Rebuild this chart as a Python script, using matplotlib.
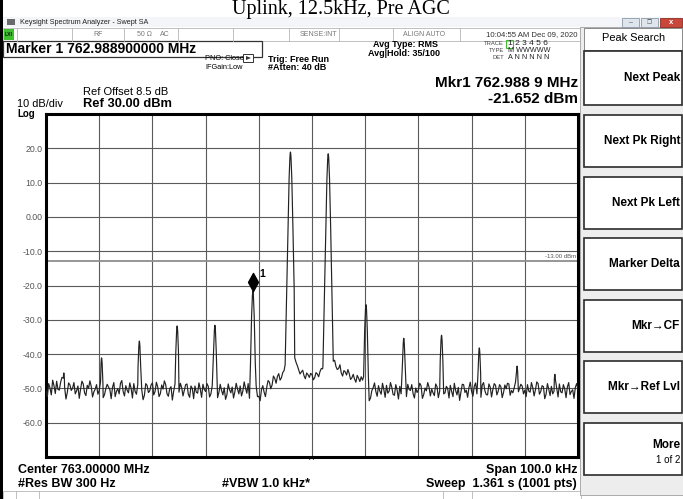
import numpy as np
import matplotlib
matplotlib.use("Agg")
import matplotlib.pyplot as plt
from matplotlib.patches import Rectangle, Polygon

plt.rcParams['font.family'] = ['Liberation Sans', 'DejaVu Sans']

W, H = 683, 499

CENTER_MHZ = 763.0
SPAN_KHZ = 100.0
REF_DBM = 30.0
BOTTOM_DBM = -70.0
DISPLAY_LINE_DBM = -13.0

# noise floor at -50.0, -49.5, ... +50.0 kHz around center
FLOOR_DBM = [
    -50.8, -48.6, -51.9, -49.2, -47.9, -50.5, -46.8, -49.7, -51.2, -49.0,
    -49.9, -51.6, -49.3, -50.2, -48.7, -52.1, -50.0, -49.4, -51.0, -48.9,
    -50.6, -49.5, -51.8, -48.8, -50.3, -49.7, -52.4, -50.1, -48.5, -50.9,
    -49.2, -51.3, -50.0, -48.6, -51.7, -49.8, -50.4, -52.0, -49.1, -50.7,
    -48.4, -50.9, -49.6, -51.5, -50.2, -48.9, -52.3, -49.5, -50.8, -49.0,
    -51.1, -49.7, -50.5, -48.7, -52.6, -50.0, -49.3, -51.4, -50.2, -48.8,
    -50.9, -49.4, -51.6, -50.3, -49.0, -51.2, -50.6, -49.8, -51.9, -50.4,
    -49.6, -51.0, -50.2, -49.3, -50.8, -49.9, -48.6, -50.5, -50.0, -49.2,
    -52.3, -50.4, -51.1, -49.6, -48.2, -49.0, -47.1, -46.5, -47.6, -45.4,
    -44.2, -43.5, -41.0, -41.0, -42.4, -44.6, -45.2, -46.3, -45.5, -46.8,
    -46.0, -46.9, -45.8, -45.1, -44.3, -43.0, -41.0, -41.0, -42.1, -43.6,
    -44.2, -45.5, -44.8, -46.1, -45.7, -46.9, -47.3, -46.2, -48.0, -47.6,
    -49.5, -51.4, -52.8, -49.8, -50.9, -49.2, -51.7, -50.3, -49.1, -50.8,
    -49.7, -52.0, -50.5, -49.4, -51.2, -50.1, -48.8, -50.6, -51.5, -49.9,
    -50.4, -49.2, -51.8, -50.7, -49.6, -50.2, -52.1, -49.5, -50.8, -49.8,
    -51.3, -50.0, -49.1, -52.4, -50.6, -49.7, -51.0, -48.9, -50.5, -49.8,
    -50.9, -49.4, -51.6, -50.2, -49.0, -50.7, -51.9, -49.6, -50.3, -49.1,
    -50.8, -49.5, -51.2, -50.1, -48.7, -50.6, -49.9, -51.4, -50.0, -49.3,
    -50.5, -48.9, -51.1, -49.8, -50.4, -48.6, -50.9, -49.5, -51.7, -50.2,
    -49.4, -50.8, -49.9, -48.7, -51.3, -50.1, -49.6, -51.8, -50.4, -49.7,
    -50.2,
]
# noise floor in between, at -49.75, -49.25, ... +49.75 kHz
FLOOR_MID_DBM = [
    -52.4, -49.9, -47.6, -51.5, -50.3, -48.2, -51.0, -53.1, -48.4, -50.6,
    -48.3, -50.7, -52.9, -47.9, -51.3, -49.1, -47.8, -52.5, -50.2, -51.7,
    -48.1, -52.7, -50.0, -49.6, -53.0, -48.3, -50.8, -51.6, -47.7, -52.2,
    -50.5, -48.4, -52.8, -50.9, -48.9, -51.8, -53.3, -48.6, -51.2, -49.0,
    -51.9, -48.2, -52.4, -49.0, -47.8, -51.6, -50.1, -53.4, -48.7, -51.5,
    -48.5, -52.2, -48.9, -51.7, -49.3, -53.0, -51.1, -48.4, -52.6, -50.3,
    -48.6, -52.5, -49.2, -47.9, -52.7, -48.8, -51.9, -53.2, -48.7, -51.3,
    -52.8, -48.5, -51.6, -52.2, -48.1, -51.4, -52.9, -48.9, -51.7, -52.4,
    -53.6, -49.2, -52.4, -47.7, -50.1, -46.4, -48.5, -45.7, -46.9, -44.8,
    -43.9, -41.0, -41.0, -41.0, -43.4, -45.8, -44.7, -47.2, -46.0, -45.6,
    -47.5, -45.4, -46.6, -44.2, -42.9, -41.0, -41.0, -41.0, -41.8, -44.5,
    -43.1, -46.4, -45.2, -44.5, -47.4, -45.9, -48.2, -47.0, -46.6, -49.1,
    -48.2, -53.6, -50.6, -48.4, -52.3, -50.8, -48.5, -52.6, -51.4, -48.3,
    -51.8, -48.9, -53.1, -51.6, -48.6, -52.4, -50.3, -48.9, -52.8, -51.2,
    -48.5, -52.9, -49.9, -48.3, -52.2, -51.3, -48.7, -52.7, -48.4, -51.6,
    -49.4, -52.8, -50.9, -48.5, -51.9, -53.5, -48.8, -51.2, -52.6, -48.2,
    -52.3, -48.4, -50.5, -52.6, -48.3, -51.8, -48.7, -52.5, -48.6, -51.9,
    -48.9, -52.7, -49.0, -48.5, -52.0, -51.3, -48.2, -52.9, -48.8, -51.6,
    -52.4, -50.8, -48.3, -52.2, -48.1, -51.7, -49.2, -53.0, -48.6, -52.1,
    -51.6, -48.4, -52.5, -51.0, -48.9, -52.7, -48.3, -50.9, -52.9, -48.6,
]

# two carriers and their intermod products (kHz from center, dBm)
PEAK_KHZ = [-46.65, -39.55, -32.45, -25.35, -18.25, -11.11, -4.05, 3.05,
            10.15, 17.25, 24.35, 31.45, 38.55, 45.65]
PEAK_DBM = [-45.5, -41.1, -36.2, -31.8, -31.6, -21.65, 18.9, 18.4,
            -25.6, -35.4, -34.5, -38.2, -43.5, -45.9]

# 300 Hz RBW filter skirt
SHAPE_KHZ = [-1.0, -0.7, -0.45, -0.25, -0.1, -0.04, 0.0, 0.04, 0.1, 0.25, 0.45, 0.7, 1.0]
SHAPE_DB = [-62, -40, -21, -7.5, -1.5, -0.3, 0, -0.3, -1.5, -7.5, -21, -40, -62]

MARKER_KHZ = -11.11
MARKER_DBM = -21.652

Y_LABELS = ["20.0", "10.0", "0.00", "-10.0", "-20.0", "-30.0", "-40.0", "-50.0", "-60.0"]
SOFTKEYS = ["Next Peak", "Next Pk Right", "Next Pk Left", "Marker Delta",
            "Mkr\u2192CF", "Mkr\u2192Ref Lvl", "More"]

# build trace
n = len(FLOOR_DBM) + len(FLOOR_MID_DBM)
floor_f = np.linspace(-SPAN_KHZ / 2, SPAN_KHZ / 2, n)
floor_y = np.empty(n)
floor_y[0::2] = FLOOR_DBM
floor_y[1::2] = FLOOR_MID_DBM
keep = np.ones(n, bool)
pk_f, pk_y = [], []
for f0, top in zip(PEAK_KHZ, PEAK_DBM):
    xs = f0 + np.array(SHAPE_KHZ)
    ys = top + np.array(SHAPE_DB, float)
    ok = ys > np.interp(xs, floor_f, floor_y)
    xs, ys = xs[ok], ys[ok]
    keep &= ~((floor_f >= xs.min() - 0.03) & (floor_f <= xs.max() + 0.03))
    pk_f += list(xs)
    pk_y += list(ys)
tf = np.concatenate([floor_f[keep], pk_f])
ty = np.concatenate([floor_y[keep], pk_y])
order = np.argsort(tf)
tf, ty = tf[order], ty[order]

fig = plt.figure(figsize=(W / 100, H / 100), dpi=100)
fig.patch.set_facecolor('white')

bg = fig.add_axes([0, 0, 1, 1])
bg.set_xlim(0, W)
bg.set_ylim(H, 0)
bg.axis('off')


def txt(x, y, s, size, ha='left', weight='normal', color='black', **kw):
    bg.text(x, y, s, fontsize=size, ha=ha, va='center', fontweight=weight, color=color, **kw)


# document title
bg.text(341, 14, "Uplink, 12.5kHz, Pre AGC", fontsize=14.5, ha='center', va='baseline',
        family='Liberation Serif', zorder=5)
bg.add_patch(Rectangle((0, 0), 3, H, fc='black', ec='none', zorder=6))

# window title bar
bg.add_patch(Rectangle((3, 17), W - 3, 10, fc='#f3f5f8', ec='none', zorder=4))
bg.add_patch(Rectangle((7, 19), 8, 6, fc='#6a6a6a', ec='none', zorder=7))
bg.text(20, 22.5, "Keysight Spectrum Analyzer - Swept SA", fontsize=5.2, va='center',
        color='#222', zorder=7)
for bx, bw, fc, ec in [(622, 17, '#dfe5ec', '#8d99a8'), (641, 17, '#dfe5ec', '#8d99a8'),
                       (660, 22, '#c8463a', '#8f2a22')]:
    bg.add_patch(Rectangle((bx, 18), bw, 9, fc=fc, ec=ec, lw=0.6, zorder=7))
bg.text(630.5, 23, "\u2013", fontsize=5, ha='center', va='center', color='#555', zorder=8)
bg.text(649.5, 22.5, "\u2750", fontsize=4, ha='center', va='center', color='#555', zorder=8)
bg.text(671, 22.5, "x", fontsize=5.5, ha='center', va='center', color='white',
        fontweight='bold', zorder=8)

# status row
bg.add_patch(Rectangle((3, 28), 578, 13, fc='white', ec='#b5b5b5', lw=0.6))
for xd in [17, 72, 124, 178, 233, 289, 339, 393, 460]:
    bg.plot([xd, xd], [28, 41], color='#b5b5b5', lw=0.6)
bg.add_patch(Rectangle((4, 29), 10, 11, fc='#3fbf2f', ec='none'))
txt(9, 34.5, "LXI", 3.6, ha='center', weight='bold', color='#111')
txt(98, 34.5, "RF", 5, ha='center', color='#777')
txt(137, 34.5, "50 \u03a9", 5, color='#777')
txt(160, 34.5, "AC", 5, color='#777')
txt(337, 34.5, "SENSE:INT", 5, ha='right', color='#777')
txt(424, 34.5, "ALIGN AUTO", 5, ha='center', color='#777')
txt(577, 34.5, "10:04:55 AM Dec 09, 2020", 5.6, ha='right', color='#333')

# marker readout and settings
bg.add_patch(Rectangle((3, 41), 259, 16, fc='white', ec='#333', lw=0.9))
txt(6, 49, "Marker 1 762.988900000 MHz", 10, weight='bold')
txt(205, 58.5, "PNO: Close", 5.3)
bg.add_patch(Rectangle((243, 54), 10, 8, fc='white', ec='#333', lw=0.7))
bg.add_patch(Polygon([(246, 56), (251, 58), (246, 60)], closed=True, fc='#333', ec='none'))
txt(205, 67, "IFGain:Low", 5.3)
txt(268, 59, "Trig: Free Run", 6.5, weight='bold')
txt(268, 67, "#Atten: 40 dB", 6.5, weight='bold')
txt(373, 44, "Avg Type: RMS", 6.5, weight='bold')
txt(368, 53, "Avg|Hold: 35/100", 6.5, weight='bold')
txt(504, 43.5, "TRACE", 4.2, ha='right', color='#444')
txt(504, 50.5, "TYPE", 4.2, ha='right', color='#444')
txt(504, 57.5, "DET", 4.2, ha='right', color='#444')
bg.add_patch(Rectangle((506, 39.5), 7, 8, fc='none', ec='#3fbf2f', lw=0.8))
txt(507.5, 43.5, "1 2 3 4 5 6", 6, color='#222')
txt(507.5, 50.5, "M WWWWW", 5.2, color='#222')
txt(507.5, 57.5, "A N N N N N", 5.2, color='#222')

txt(578, 83, "Mkr1 762.988 9 MHz", 11, ha='right', weight='bold')
txt(578, 99, "-21.652 dBm", 11, ha='right', weight='bold')
txt(83, 92, "Ref Offset 8.5 dB", 8)
txt(17, 104, "10 dB/div", 7.9)
txt(83, 104, "Ref 30.00 dBm", 9.3, weight='bold')
txt(17, 113.5, "Log", 7, weight='bold')

# bottom annotations
txt(18, 470, "Center 763.00000 MHz", 9, weight='bold')
txt(577, 470, "Span 100.0 kHz", 9, ha='right', weight='bold')
txt(18, 484, "#Res BW 300 Hz", 9, weight='bold')
txt(222, 484, "#VBW 1.0 kHz*", 9, weight='bold')
txt(577, 484, "Sweep  1.361 s (1001 pts)", 9, ha='right', weight='bold')
txt(312, 461, "^", 8, ha='center', color='#222')
bg.add_patch(Rectangle((3, 491), 578, 9, fc='white', ec='#b5b5b5', lw=0.6))
for xd in [16, 39, 443, 472]:
    bg.plot([xd, xd], [491, 499], color='#b5b5b5', lw=0.6)

# softkey panel
bg.add_patch(Rectangle((580, 27), W - 580, 468, fc='#ededed', ec='#a0a0a0', lw=0.6))
bg.add_patch(Rectangle((584, 28), 98, 22, fc='white', ec='#8a8a8a', lw=0.7))
txt(634, 38, "Peak Search", 7.9, ha='center')
tops = [51] + [115 + 61.6 * k for k in range(6)]
heights = [54] + [52] * 6
for label, top, hgt in zip(SOFTKEYS, tops, heights):
    bg.add_patch(Rectangle((584, top), 98, hgt, fc='white', ec='#2b2b2b', lw=1.2))
    cy = top + hgt / 2
    if label == "More":
        txt(680, cy - 4, label, 8.5, ha='right', weight='bold')
        txt(680, cy + 11, "1 of 2", 7, ha='right')
    else:
        txt(680, cy, label, 8.5, ha='right', weight='bold')

# spectrum graticule
x0, x1, ytop, ybot = 46, 578, 114, 457
ax = fig.add_axes([x0 / W, 1 - ybot / H, (x1 - x0) / W, (ybot - ytop) / H])
ax.set_facecolor('white')
fmin = CENTER_MHZ - SPAN_KHZ / 2000
fmax = CENTER_MHZ + SPAN_KHZ / 2000
ax.set_xlim(fmin, fmax)
ax.set_ylim(BOTTOM_DBM, REF_DBM)
ax.set_xticks(np.linspace(fmin, fmax, 11))
ax.set_xticklabels([])
ax.set_yticks(np.arange(BOTTOM_DBM, REF_DBM + 1, 10))
ax.set_yticklabels([""] + Y_LABELS[::-1] + [""])
ax.tick_params(length=0, labelsize=6.3, labelcolor='#555', pad=2.5)
ax.grid(True, color='#5a5a5a', lw=0.8)
ax.set_axisbelow(True)
for sp in ax.spines.values():
    sp.set_linewidth(2.2)
    sp.set_color('black')

ax.axhline(DISPLAY_LINE_DBM, color='#8e8e8e', lw=1.3, zorder=1)
ax.text(fmax - 0.0003, DISPLAY_LINE_DBM + 0.6, "-13.00 dBm", fontsize=4.3, color='#555',
        ha='right', va='bottom')

ax.plot(CENTER_MHZ + tf / 1000, ty, color='#222222', lw=0.85, zorder=3)

mk_f = CENTER_MHZ + MARKER_KHZ / 1000
diamond = [(0, 0), (0.55, 1), (0, 2), (-0.55, 1), (0, 0)]
ax.plot(mk_f, MARKER_DBM, marker=diamond, ms=26, color='black', zorder=4)
ax.annotate("1", (mk_f, MARKER_DBM), xytext=(4.5, 9), textcoords='offset points',
            fontsize=7.5, fontweight='bold', ha='left', va='bottom')

fig.savefig("out.png", dpi=100)
